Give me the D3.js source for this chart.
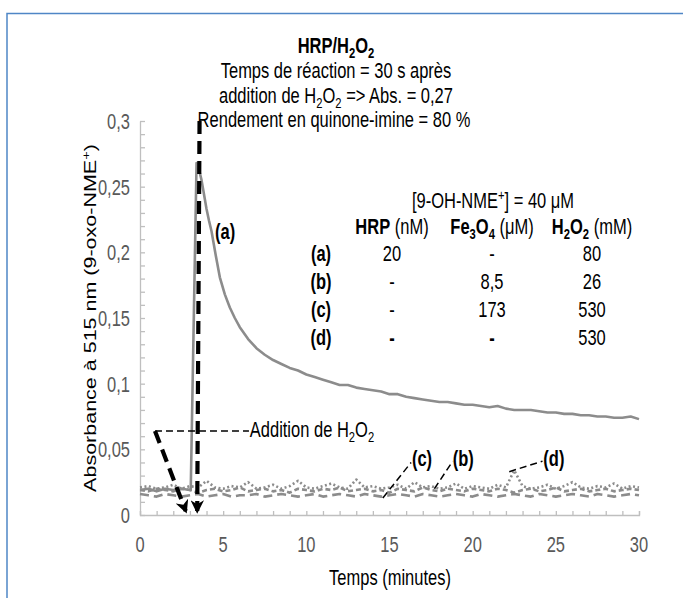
<!DOCTYPE html>
<html>
<head>
<meta charset="utf-8">
<script src="https://cdn.jsdelivr.net/npm/d3@7"></script>
<style>
  body { margin: 0; background: #fff; }
  text { font-family: "Liberation Sans", Arial, sans-serif; }
</style>
</head>
<body>
<div id="chart"></div>
<script>
"use strict";

// (a) HRP / H2O2 : time (min) and absorbance
const timeA = [0, 0.5, 1, 1.5, 2, 2.5, 3, 3.05, 3.4, 3.55, 3.7, 3.85, 4, 4.15, 4.3, 4.55, 4.8, 5.1, 5.4, 5.7,
  6, 6.5, 7, 7.5, 8, 8.5, 9, 9.5, 10, 10.5, 11, 11.5, 12, 12.5, 13, 13.5, 14, 14.5, 15, 15.5,
  16, 16.5, 17, 17.5, 18, 18.5, 19, 19.5, 20, 20.5, 21, 21.5, 22, 22.5, 23, 23.5, 24, 24.5, 25, 25.5,
  26, 26.5, 27, 27.5, 28, 28.5, 29, 29.5, 30];
const absA = [0.019, 0.020, 0.018, 0.020, 0.019, 0.020, 0.019, 0.019, 0.268, 0.263, 0.255, 0.244, 0.233, 0.224, 0.216, 0.198, 0.181, 0.168, 0.158, 0.150,
  0.143, 0.134, 0.127, 0.122, 0.118, 0.115, 0.112, 0.110, 0.107, 0.105, 0.103, 0.101, 0.099, 0.099, 0.097, 0.096, 0.095, 0.094, 0.092, 0.092,
  0.090, 0.089, 0.088, 0.087, 0.086, 0.086, 0.085, 0.084, 0.084, 0.083, 0.082, 0.083, 0.081, 0.080, 0.080, 0.080, 0.079, 0.078, 0.078, 0.077,
  0.077, 0.076, 0.076, 0.075, 0.075, 0.074, 0.074, 0.075, 0.073];

// (b), (c), (d) baselines, every 0.5 min
const timeGrid = [0, 0.5, 1, 1.5, 2, 2.5, 3, 3.5, 4, 4.5, 5, 5.5, 6, 6.5, 7, 7.5, 8, 8.5, 9, 9.5,
  10, 10.5, 11, 11.5, 12, 12.5, 13, 13.5, 14, 14.5, 15, 15.5, 16, 16.5, 17, 17.5, 18, 18.5, 19, 19.5,
  20, 20.5, 21, 21.5, 22, 22.5, 23, 23.5, 24, 24.5, 25, 25.5, 26, 26.5, 27, 27.5, 28, 28.5, 29, 29.5, 30];
const absB = [0.016, 0.015, 0.014, 0.016, 0.015, 0.014, 0.015, 0.016, 0.014, 0.015,
  0.016, 0.014, 0.015, 0.015, 0.016, 0.014, 0.015, 0.016, 0.015, 0.014,
  0.015, 0.016, 0.014, 0.015, 0.016, 0.015, 0.014, 0.016, 0.015, 0.014,
  0.015, 0.016, 0.015, 0.014, 0.016, 0.015, 0.014, 0.015, 0.016, 0.015,
  0.014, 0.016, 0.015, 0.014, 0.015, 0.016, 0.015, 0.014, 0.016, 0.015,
  0.014, 0.015, 0.016, 0.015, 0.014, 0.016, 0.015, 0.014, 0.015, 0.016, 0.015];
const absC = [0.019, 0.018, 0.020, 0.019, 0.018, 0.020, 0.019, 0.017, 0.019, 0.020,
  0.018, 0.019, 0.021, 0.018, 0.019, 0.020, 0.018, 0.019, 0.017, 0.020,
  0.019, 0.018, 0.020, 0.019, 0.021, 0.018, 0.019, 0.020, 0.018, 0.019,
  0.017, 0.020, 0.019, 0.018, 0.021, 0.019, 0.018, 0.020, 0.019, 0.018,
  0.020, 0.019, 0.018, 0.020, 0.019, 0.017, 0.019, 0.020, 0.018, 0.019,
  0.021, 0.018, 0.019, 0.020, 0.018, 0.019, 0.020, 0.018, 0.019, 0.020, 0.019];
const absD = [0.021, 0.022, 0.020, 0.021, 0.023, 0.020, 0.022, 0.021, 0.026, 0.021,
  0.020, 0.022, 0.021, 0.025, 0.020, 0.021, 0.023, 0.020, 0.022, 0.026,
  0.021, 0.020, 0.022, 0.024, 0.021, 0.020, 0.027, 0.021, 0.022, 0.020,
  0.021, 0.023, 0.020, 0.025, 0.021, 0.022, 0.020, 0.021, 0.024, 0.020,
  0.022, 0.021, 0.020, 0.023, 0.021, 0.034, 0.022, 0.020, 0.021, 0.023,
  0.020, 0.022, 0.025, 0.021, 0.020, 0.022, 0.021, 0.024, 0.020, 0.022, 0.021];

const xTicks = [0, 5, 10, 15, 20, 25, 30];
const xTickLabels = ["0", "5", "10", "15", "20", "25", "30"];
const yTicks = [0, 0.05, 0.1, 0.15, 0.2, 0.25, 0.3];
const yTickLabels = ["0", "0,05", "0,1", "0,15", "0,2", "0,25", "0,3"];

// conditions table
const rowLabels = ["(a)", "(b)", "(c)", "(d)"];
const hrpCol = ["20", "-", "-", "-"];
const fe3o4Col = ["-", "8,5", "173", "-"];
const h2o2Col = ["80", "26", "530", "530"];

const width = 683, height = 598;
const gray = "#8c8c8c";
const FS = 16.5;      // font size
const STRETCH = 1.33; // the original figure is vertically stretched

const svg = d3.select("#chart").append("svg")
  .attr("width", width)
  .attr("height", height)
  .style("display", "block");

svg.append("rect").attr("width", width).attr("height", height).attr("fill", "#fff");

// blue frame (top and left edges)
svg.append("path")
  .attr("d", "M7,598 V13.5 H683")
  .attr("fill", "none")
  .attr("stroke", "#4f86c6")
  .attr("stroke-width", 1.5);

const x = d3.scaleLinear().domain([0, 30]).range([140, 639]);
const y = d3.scaleLinear().domain([0, 0.3]).range([515, 121]);

// rich text helper: parts = [[string, kind]]  kind: "", "b", "sub", "bsub", "sup"
function rich(g, px, py, parts, anchor, fill) {
  let t = g.append("text")
    .attr("transform", "translate(" + px + "," + py + ") scale(1," + STRETCH + ")")
    .attr("font-size", FS + "px")
    .attr("text-anchor", anchor || "start")
    .attr("fill", fill || "#000");
  let shift = 0;
  parts.forEach(function(p) {
    let kind = p[1] || "";
    let ts = t.append("tspan").text(p[0]);
    let want = 0;
    if (kind.indexOf("sub") >= 0) want = FS * 0.25;
    if (kind.indexOf("sup") >= 0) want = -FS * 0.38;
    ts.attr("dy", want - shift);
    shift = want;
    if (kind.indexOf("sub") >= 0 || kind.indexOf("sup") >= 0) ts.attr("font-size", (FS * 0.68) + "px");
    if (kind.indexOf("b") === 0) ts.attr("font-weight", "bold");
  });
  return t;
}

// axes (minor ticks inside)
const axisColor = "#bfbfbf";
let gx = svg.append("g").attr("transform", "translate(0," + y(0) + ")");
gx.call(d3.axisBottom(x).ticks(30).tickSize(-4).tickSizeOuter(-4).tickFormat(""));
gx.selectAll("path, line").attr("stroke", axisColor).attr("stroke-width", 1.3);

let gy = svg.append("g").attr("transform", "translate(" + x(0) + ",0)");
gy.call(d3.axisLeft(y).ticks(30).tickSize(-5).tickFormat("").tickSizeOuter(0));
gy.selectAll("path, line").attr("stroke", axisColor).attr("stroke-width", 1.3);

xTicks.forEach(function(v, i) {
  rich(svg, x(v), 552, [[xTickLabels[i]]], "middle", "#595959");
});
yTicks.forEach(function(v, i) {
  rich(svg, x(0) - 10, y(v) + 8, [[yTickLabels[i]]], "end", "#595959");
});

// axis titles
rich(svg, 390, 585, [["Temps (minutes)"]], "middle");

let yTitle = svg.append("text")
  .attr("font-size", FS + "px")
  .attr("text-anchor", "middle");
yTitle.append("tspan").text("Absorbance à 515 nm (9-oxo-NME");
yTitle.append("tspan").text("+").attr("font-size", (FS * 0.68) + "px").attr("dy", -FS * 0.38);
yTitle.append("tspan").text(")").attr("dy", FS * 0.38);
let yLen = yTitle.node().getComputedTextLength();
yTitle.attr("transform", "translate(96,318) rotate(-90) scale(" + (348 / yLen) + ",1)");

// data lines
const line = d3.line().x(d => x(d[0])).y(d => y(d[1]));
const series = [
  { t: timeGrid, v: absB, dash: "9,5" },
  { t: timeGrid, v: absC, dash: "5,3" },
  { t: timeGrid, v: absD, dash: "2,2.5" },
  { t: timeA, v: absA, dash: null }
];
series.forEach(function(s) {
  svg.append("path")
    .datum(s.t.map((tt, i) => [tt, s.v[i]]))
    .attr("d", line)
    .attr("fill", "none")
    .attr("stroke", gray)
    .attr("stroke-width", 2.6)
    .attr("stroke-linejoin", "round")
    .attr("stroke-dasharray", s.dash);
});

// arrowhead
svg.append("defs").append("marker")
  .attr("id", "head")
  .attr("viewBox", "0 0 10 10")
  .attr("refX", 8).attr("refY", 5)
  .attr("markerWidth", 3.2).attr("markerHeight", 3.2)
  .attr("orient", "auto")
  .append("path")
  .attr("d", "M0,0 L10,5 L0,10 L3,5 z")
  .attr("fill", "#000");

// annotations (data units)
const arrowInject = [[3.58, 0.300], [3.44, 0.003]];
const arrowAdd = [[0.9, 0.064], [2.75, 0.003]];
const lineAdd = [[0.9, 0.064], [6.55, 0.064]];
const leaderC = [[14.6, 0.013], [16.3, 0.040]];
const leaderB = [[17.7, 0.020], [18.8, 0.041]];
const leaderD = [[22.2, 0.033], [24.2, 0.041]];

svg.append("path").datum(arrowInject).attr("d", line)
  .attr("stroke", "#000").attr("stroke-width", 4.2).attr("fill", "none")
  .attr("stroke-dasharray", "13,7").attr("marker-end", "url(#head)");
svg.append("path").datum(arrowAdd).attr("d", line)
  .attr("stroke", "#000").attr("stroke-width", 4.2).attr("fill", "none")
  .attr("stroke-dasharray", "13,7").attr("marker-end", "url(#head)");
[lineAdd, leaderC, leaderB, leaderD].forEach(function(l) {
  svg.append("path").datum(l).attr("d", line)
    .attr("stroke", "#000").attr("stroke-width", 1.5).attr("fill", "none")
    .attr("stroke-dasharray", "7,4");
});

rich(svg, x(6.6), y(0.064) + 6, [["Addition de H"], ["2", "sub"], ["O"], ["2", "sub"]]);
rich(svg, x(16.35), 466, [["(c)", "b"]]);
rich(svg, x(18.8), 466, [["(b)", "b"]]);
rich(svg, x(24.25), 466, [["(d)", "b"]]);
rich(svg, 215, 239, [["(a)", "b"]]);

// title block
rich(svg, 336, 53, [["HRP/H", "b"], ["2", "bsub"], ["O", "b"], ["2", "bsub"]], "middle");
rich(svg, 336, 78, [["Temps de réaction = 30 s après"]], "middle");
rich(svg, 336, 103, [["addition de H"], ["2", "sub"], ["O"], ["2", "sub"], [" => Abs. = 0,27"]], "middle");
rich(svg, 334, 127, [["Rendement en quinone-imine = 80 %"]], "middle");

// conditions table
rich(svg, 493, 208, [["[9-OH-NME"], ["+", "sup"], ["] = 40 μM"]], "middle");
rich(svg, 392, 234, [["HRP", "b"], [" (nM)"]], "middle");
rich(svg, 492, 234, [["Fe", "b"], ["3", "bsub"], ["O", "b"], ["4", "bsub"], [" (μM)"]], "middle");
rich(svg, 592, 234, [["H", "b"], ["2", "bsub"], ["O", "b"], ["2", "bsub"], [" (mM)"]], "middle");

const rowY = [261, 289, 317, 345];
rowLabels.forEach(function(lab, i) {
  rich(svg, 321, rowY[i], [[lab, "b"]], "middle");
  let k = i === 3 ? "b" : "";
  rich(svg, 392, rowY[i], [[hrpCol[i], k]], "middle");
  rich(svg, 492, rowY[i], [[fe3o4Col[i], k]], "middle");
  rich(svg, 592, rowY[i], [[h2o2Col[i]]], "middle");
});
</script>
</body>
</html>
